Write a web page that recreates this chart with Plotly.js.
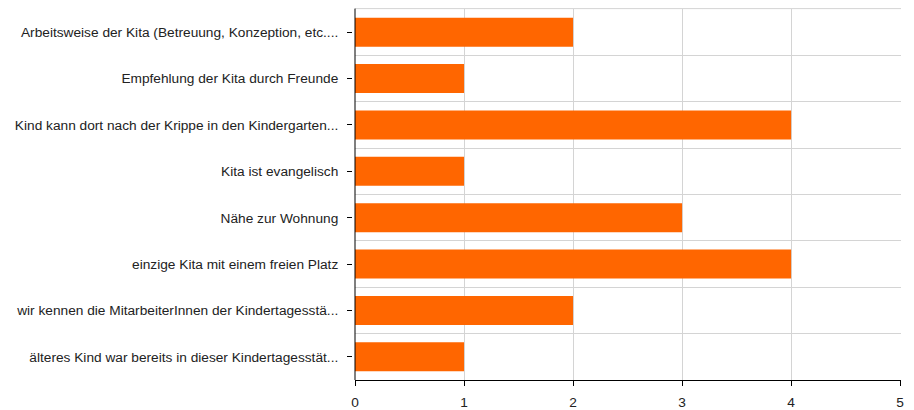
<!DOCTYPE html>
<html>
<head>
<meta charset="utf-8">
<script src="https://cdn.plot.ly/plotly-3.0.1.min.js"></script>
<style>html,body{margin:0;padding:0;background:#fff;}#chart{width:914px;height:410px;}</style>
</head>
<body>
<div id="chart"></div>
<script>
const categories = [
  "Arbeitsweise der Kita (Betreuung, Konzeption, etc....",
  "Empfehlung der Kita durch Freunde",
  "Kind kann dort nach der Krippe in den Kindergarten...",
  "Kita ist evangelisch",
  "Nähe zur Wohnung",
  "einzige Kita mit einem freien Platz",
  "wir kennen die MitarbeiterInnen der Kindertagesstä...",
  "älteres Kind war bereits in dieser Kindertagesstät..."
];
const counts = [2, 1, 4, 1, 3, 4, 2, 1];
const xTicks = [0, 1, 2, 3, 4, 5];

const W = 914, H = 410;
const idx = categories.map((c, i) => i);
const bounds = categories.map((c, i) => i - 0.5).concat([categories.length - 0.5]);

const trace = {
  type: 'bar',
  orientation: 'h',
  x: counts,
  y: idx,
  width: 0.625,
  marker: {color: '#ff6600', line: {width: 0}},
  hoverinfo: 'none'
};

const layout = {
  width: W, height: H,
  margin: {l: 0, r: 0, t: 0, b: 0},
  paper_bgcolor: '#ffffff',
  plot_bgcolor: '#ffffff',
  showlegend: false,
  font: {family: 'Liberation Sans, Arial, sans-serif', size: 13.7, color: '#222222'},
  xaxis: {
    domain: [355 / W, 901 / W],
    range: [0, 5.008],
    tickmode: 'array',
    tickvals: xTicks,
    ticktext: xTicks.map(String),
    showgrid: true,
    gridcolor: '#d4d4d4',
    gridwidth: 1,
    zeroline: false,
    showline: true,
    linecolor: '#000000',
    linewidth: 1,
    ticks: 'outside',
    ticklen: 5,
    tickcolor: '#000000',
    tickwidth: 1,
    ticklabelstandoff: 5,
    automargin: false,
    fixedrange: true
  },
  yaxis: {
    domain: [(H - 380) / H, (H - 8.6) / H],
    range: [categories.length - 0.5, -0.51],
    anchor: 'free',
    position: 352 / W,
    tickmode: 'array',
    tickvals: idx,
    ticktext: categories,
    showgrid: false,
    zeroline: false,
    showline: false,
    ticks: 'outside',
    ticklen: 5,
    tickcolor: '#000000',
    tickwidth: 1,
    ticklabelstandoff: 6,
    minor: {tickmode: 'array', tickvals: bounds, showgrid: true, gridcolor: '#d4d4d4', gridwidth: 1, ticks: ''},
    automargin: false,
    fixedrange: true
  },
  shapes: [{
    type: 'line', xref: 'x domain', yref: 'y domain', layer: 'below',
    x0: 0, x1: 1, y0: 1, y1: 1,
    line: {color: '#d4d4d4', width: 1}
  }, {
    type: 'line', xref: 'x domain', yref: 'y domain',
    x0: 0, x1: 0, y0: 0, y1: 1,
    line: {color: '#000000', width: 1}
  }]
};

Plotly.newPlot('chart', [trace], layout, {displayModeBar: false, staticPlot: true});
</script>
</body>
</html>
